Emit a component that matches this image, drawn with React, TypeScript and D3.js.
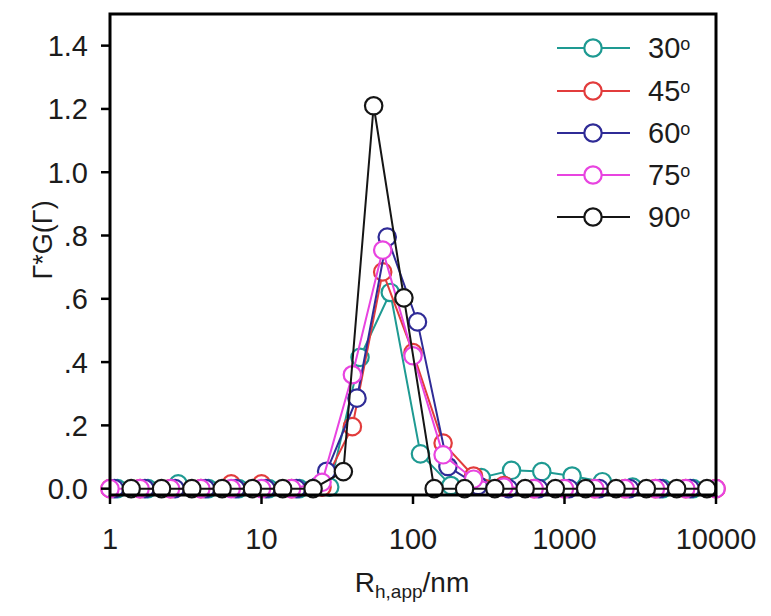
import React from "react";
import * as d3 from "d3";

// ---- data ----
const r30 = [1.12, 1.78, 2.82, 4.47, 7.08, 11.2, 17.8, 28.2, 44.7, 70.8, 112, 178, 282, 447, 708, 1122, 1778, 2818, 4467, 7079];
const g30 = [0, 0, 0.015, 0, 0, 0, 0, 0.005, 0.415, 0.62, 0.11, 0.01, 0.035, 0.058, 0.054, 0.04, 0.022, 0.005, 0, 0];

const r45 = [1, 1.58, 2.51, 3.98, 6.31, 10, 15.8, 25.1, 39.8, 63.1, 100, 158, 251, 398, 631, 1000, 1585, 2512, 3981, 6310, 10000];
const g45 = [0, 0, 0, 0, 0.015, 0.015, 0, 0.005, 0.196, 0.685, 0.43, 0.144, 0.04, 0.01, 0, 0, 0, 0, 0, 0, 0];

const r60 = [1.07, 1.7, 2.69, 4.27, 6.76, 10.7, 17.0, 26.9, 42.7, 67.6, 107, 170, 269, 427, 676, 1072, 1698, 2692, 4266, 6761];
const g60 = [0, 0, 0, 0, 0, 0, 0, 0.055, 0.286, 0.795, 0.527, 0.07, 0.01, 0, 0, 0, 0, 0, 0, 0];

const r75 = [1, 1.58, 2.51, 3.98, 6.31, 10, 15.8, 25.1, 39.8, 63.1, 100, 158, 251, 398, 631, 1000, 1585, 2512, 3981, 6310, 10000];
const g75 = [0, 0, 0, 0, 0, 0, 0, 0.02, 0.36, 0.754, 0.42, 0.107, 0.03, 0.005, 0, 0, 0, 0, 0, 0, 0];

const r90 = [1.38, 2.19, 3.47, 5.5, 8.71, 13.8, 21.9, 34.7, 55.0, 87.1, 138, 219, 347, 550, 871, 1380, 2190, 3470, 5500, 8710];
const g90 = [0, 0, 0, 0, 0, 0, 0, 0.054, 1.21, 0.603, 0, 0, 0, 0, 0, 0, 0, 0, 0, 0];

const seriesNames = ["30", "45", "60", "75", "90"];
const seriesColors = ["#1e9a92", "#e23c3c", "#2f2b96", "#e844e0", "#151515"];
const seriesR = [r30, r45, r60, r75, r90];
const seriesG = [g30, g45, g60, g75, g90];

const xTicks = [1, 10, 100, 1000, 10000];
const xTickLabels = ["1", "10", "100", "1000", "10000"];
const yTicks = [0, 0.2, 0.4, 0.6, 0.8, 1.0, 1.2, 1.4];
const yTickLabels = ["0.0", ".2", ".4", ".6", ".8", "1.0", "1.2", "1.4"];

const W = 771;
const H = 616;
const L = 110, R = 716, T = 14, B = 495;
const FONT = "Arial, 'Liberation Sans', Helvetica, sans-serif";
const TXT = "#1c1c1c";

export default function App() {
  const x = d3.scaleLog().domain([1, 10000]).range([L, R]);
  const y = d3.scaleLinear().domain([-0.02, 1.5]).range([B, T]);
  const line = d3
    .line<[number, number]>()
    .x((d) => x(d[0]))
    .y((d) => y(d[1]));

  const legendY = [48, 91, 133, 175, 217];

  return (
    <svg
      width={W}
      height={H}
      style={{ position: "absolute", left: 0, top: 0, background: "#fff" }}
      fontFamily={FONT}
    >
      <rect x={0} y={0} width={W} height={H} fill="#fff" />
      {/* series */}
      {seriesR.map((rs, i) => {
        const pts: [number, number][] = rs.map((r, j) => [r, seriesG[i][j]]);
        return (
          <g key={i}>
            <path d={line(pts) || ""} fill="none" stroke={seriesColors[i]} strokeWidth={2} />
            {pts.map((p, j) => (
              <circle
                key={j}
                cx={x(p[0])}
                cy={y(p[1])}
                r={8.7}
                fill="#fff"
                stroke={seriesColors[i]}
                strokeWidth={2.2}
              />
            ))}
          </g>
        );
      })}
      {/* frame */}
      <rect x={L} y={T} width={R - L} height={B - T} fill="none" stroke="#000" strokeWidth={3} />
      {/* y ticks */}
      {yTicks.map((t, i) => (
        <g key={i}>
          <line x1={L - 9} x2={L} y1={y(t)} y2={y(t)} stroke="#000" strokeWidth={2.5} />
          <text x={88} y={y(t)} dy="0.36em" textAnchor="end" fontSize={29} fill={TXT}>
            {yTickLabels[i]}
          </text>
        </g>
      ))}
      {/* x ticks */}
      {xTicks.map((t, i) => (
        <g key={i}>
          <line x1={x(t)} x2={x(t)} y1={B} y2={B + 9} stroke="#000" strokeWidth={2.5} />
          <text x={x(t)} y={549} textAnchor="middle" fontSize={29} fill={TXT}>
            {xTickLabels[i]}
          </text>
        </g>
      ))}
      {/* axis titles */}
      <text x={412} y={592} textAnchor="middle" fontSize={28} fill={TXT}>
        R<tspan fontSize={19} dy={6}>h,app</tspan>
        <tspan dy={-6}>/nm</tspan>
      </text>
      <text
        transform={`translate(52,240) rotate(-90)`}
        textAnchor="middle"
        fontSize={27}
        fill={TXT}
      >
        Γ*G(Γ)
      </text>
      {/* legend */}
      {seriesNames.map((n, i) => (
        <g key={i}>
          <line x1={557} x2={630} y1={legendY[i]} y2={legendY[i]} stroke={seriesColors[i]} strokeWidth={2} />
          <circle cx={593} cy={legendY[i]} r={8.7} fill="#fff" stroke={seriesColors[i]} strokeWidth={2.2} />
          <text x={648} y={legendY[i]} dy="0.36em" fontSize={29} fill={TXT}>
            {n}
            <tspan fontSize={18} dy={-8}>o</tspan>
          </text>
        </g>
      ))}
    </svg>
  );
}
